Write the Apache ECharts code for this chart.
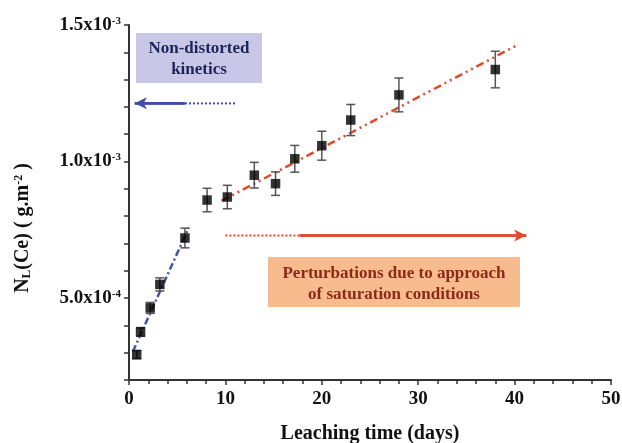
<!DOCTYPE html>
<html>
<head>
<meta charset="utf-8">
<script src="https://cdn.jsdelivr.net/npm/echarts@6/dist/echarts.min.js"></script>
<style>
  html, body { margin: 0; padding: 0; background: #fff; }
  #chart { width: 622px; height: 443px; }
</style>
</head>
<body>
<div id="chart"></div>
<script>
// measured points (days, N_L in g/m2, +/- error)
const days = [0.8, 1.2, 2.2, 3.2, 5.8, 8.1, 10.2, 13.0, 15.2, 17.2, 20.0, 23.0, 28.0, 38.0];
const nl = [2.93e-4, 3.76e-4, 4.64e-4, 5.50e-4, 7.20e-4, 8.59e-4, 8.70e-4, 9.50e-4,
            9.19e-4, 10.10e-4, 10.58e-4, 11.52e-4, 12.44e-4, 13.37e-4];
const err = [0.15e-4, 0.16e-4, 0.2e-4, 0.24e-4, 0.36e-4, 0.43e-4, 0.43e-4, 0.47e-4,
             0.43e-4, 0.49e-4, 0.53e-4, 0.57e-4, 0.62e-4, 0.67e-4];

// fitted lines (start, end)
const blueFit = [[0.4, 3.04e-4], [6.2, 7.58e-4]];
const redFit = [[9.6, 8.56e-4], [40.2, 14.25e-4]];

// annotation arrows: dotted part then solid part ending in a head
const blueArrowDotted = [[11.0, 12.13e-4], [5.8, 12.13e-4]];
const blueArrowSolid = [[5.8, 12.13e-4], [0.6, 12.13e-4]];
const redArrowDotted = [[10.0, 7.29e-4], [17.7, 7.29e-4]];
const redArrowSolid = [[17.7, 7.29e-4], [41.2, 7.29e-4]];

const xTicks = [0, 10, 20, 30, 40, 50];

const serif = '"Liberation Serif", "DejaVu Serif", serif';
const ink = '#111';
const blue = '#3f4ea6';
const red = '#e2482c';

const chart = echarts.init(document.getElementById('chart'), null, { renderer: 'canvas' });

function segment(name, pts, color, type, width, arrow) {
  const s = {
    name: name,
    type: 'line',
    data: pts,
    symbol: 'none',
    silent: true,
    lineStyle: { color: color, width: width, type: type },
    z: 3
  };
  if (arrow) {
    s.markLine = {
      silent: true,
      symbol: ['none', 'arrow'],
      symbolSize: [9, 12],
      label: { show: false },
      lineStyle: { color: color, width: width, type: 'solid' },
      animation: false,
      data: [[{ coord: pts[0] }, { coord: pts[1] }]]
    };
  }
  return s;
}

const option = {
  animation: false,
  grid: { left: 129, right: 11, top: 25, bottom: 63, outerBoundsMode: 'none' },
  xAxis: {
    type: 'value',
    min: 0,
    max: 50,
    interval: 10,
    name: 'Leaching time (days)',
    nameLocation: 'middle',
    nameGap: 44,
    nameTextStyle: { fontFamily: serif, fontWeight: 'bold', fontSize: 20, color: ink },
    axisLine: { show: true, lineStyle: { color: '#333', width: 2 } },
    axisTick: { show: true, length: 5, lineStyle: { color: '#333', width: 1.5 } },
    minorTick: { show: true, splitNumber: 5, length: 4, lineStyle: { color: '#333', width: 1.5 } },
    splitLine: { show: false },
    axisLabel: {
      fontFamily: serif, fontWeight: 'bold', fontSize: 19, color: ink, margin: 10,
      formatter: v => (xTicks.indexOf(v) >= 0 ? String(v) : '')
    }
  },
  yAxis: {
    type: 'value',
    min: 2e-4,
    max: 15e-4,
    interval: 1e-4,
    axisLine: { show: true, lineStyle: { color: '#333', width: 2 } },
    axisTick: { show: true, length: 5, lineStyle: { color: '#333', width: 1.5 } },
    splitLine: { show: false },
    axisLabel: {
      margin: 8,
      formatter: function (v) {
        const k = Math.round(v * 1e4);
        if (k % 5 !== 0 || k === 0) return '';
        const mant = k < 10 ? k.toFixed(1) : (k / 10).toFixed(1);
        const exp = k < 10 ? '-4' : '-3';
        return '{b|' + mant + 'x10}{s|' + exp + '}';
      },
      rich: {
        b: { fontFamily: serif, fontWeight: 'bold', fontSize: 19, color: ink },
        s: { fontFamily: serif, fontWeight: 'bold', fontSize: 11, color: ink, verticalAlign: 'top' }
      }
    }
  },
  graphic: [
    {
      type: 'text',
      x: 23,
      y: 228,
      rotation: Math.PI / 2,
      style: {
        text: '{n|N}{sub|L}{n|(Ce) ( g.m}{sup|-2}{n| )}',
        align: 'center',
        verticalAlign: 'middle',
        rich: {
          n: { fontFamily: serif, fontWeight: 'bold', fontSize: 20, fill: ink },
          sub: { fontFamily: serif, fontWeight: 'bold', fontSize: 13, fill: ink, verticalAlign: 'bottom' },
          sup: { fontFamily: serif, fontWeight: 'bold', fontSize: 12, fill: ink, verticalAlign: 'top' }
        }
      }
    },
    {
      type: 'rect',
      shape: { x: 136, y: 33, width: 126, height: 50 },
      style: { fill: '#c8c7e8' },
      z: 1
    },
    {
      type: 'text',
      x: 199,
      y: 59,
      style: {
        text: 'Non-distorted\nkinetics',
        align: 'center',
        verticalAlign: 'middle',
        fontFamily: serif,
        fontWeight: 'bold',
        fontSize: 17,
        lineHeight: 21,
        fill: '#1d2456'
      },
      z: 2
    },
    {
      type: 'rect',
      shape: { x: 268, y: 257, width: 252, height: 50 },
      style: { fill: '#f7bb8e' },
      z: 1
    },
    {
      type: 'text',
      x: 394,
      y: 284,
      style: {
        text: 'Perturbations due to approach\nof saturation conditions',
        align: 'center',
        verticalAlign: 'middle',
        fontFamily: serif,
        fontWeight: 'bold',
        fontSize: 17,
        lineHeight: 21,
        fill: '#8a2b1a'
      },
      z: 2
    }
  ],
  series: [
    segment('blueFit', blueFit, '#4355a8', [7, 3, 2, 3], 2.5, false),
    segment('redFit', redFit, red, [8, 4, 2, 4, 2, 4], 2.5, false),
    segment('blueDot', blueArrowDotted, blue, [2, 2], 2, false),
    segment('blueArrow', blueArrowSolid, blue, 'solid', 2.5, true),
    segment('redDot', redArrowDotted, red, [2, 2], 2, false),
    segment('redArrow', redArrowSolid, red, 'solid', 2.5, true),
    {
      name: 'errors',
      type: 'custom',
      silent: true,
      z: 4,
      data: days.map((d, i) => [d, nl[i], err[i]]),
      renderItem: function (params, api) {
        const x = api.value(0), y = api.value(1), e = api.value(2);
        const top = api.coord([x, y + e]);
        const bot = api.coord([x, y - e]);
        const w = 4.5;
        const st = { stroke: '#555', lineWidth: 1.5 };
        return {
          type: 'group',
          children: [
            { type: 'line', shape: { x1: top[0], y1: top[1], x2: bot[0], y2: bot[1] }, style: st },
            { type: 'line', shape: { x1: top[0] - w, y1: top[1], x2: top[0] + w, y2: top[1] }, style: st },
            { type: 'line', shape: { x1: bot[0] - w, y1: bot[1], x2: bot[0] + w, y2: bot[1] }, style: st }
          ]
        };
      }
    },
    {
      name: 'N_L(Ce)',
      type: 'scatter',
      symbol: 'rect',
      symbolSize: 9.5,
      z: 5,
      itemStyle: { color: '#000' },
      data: days.map((d, i) => [d, nl[i]])
    }
  ]
};

chart.setOption(option);
window.addEventListener('resize', () => chart.resize());
</script>
</body>
</html>
